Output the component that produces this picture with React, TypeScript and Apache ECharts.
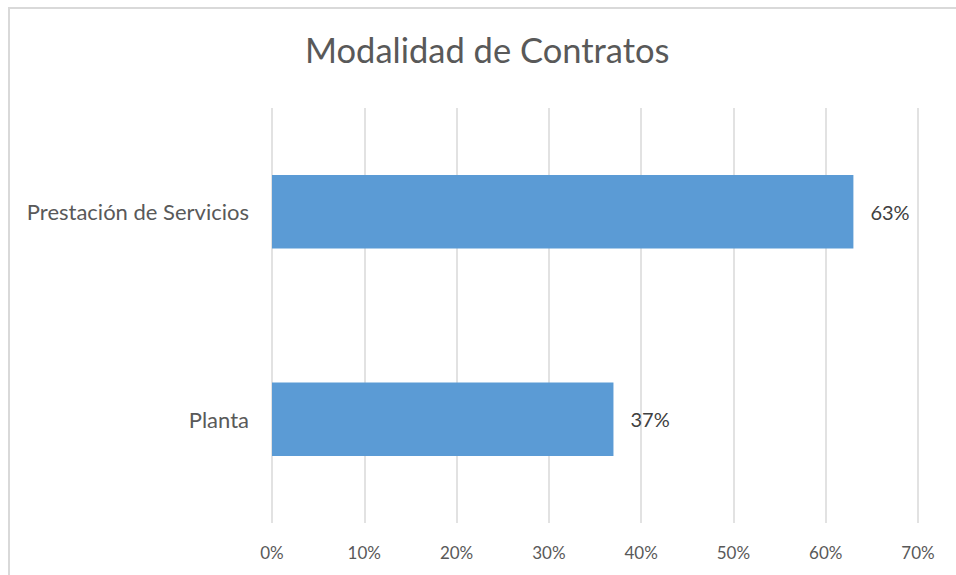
import React, { useEffect, useRef } from "react";
import * as echarts from "echarts";

const title = "Modalidad de Contratos";
const categories = ["Planta", "Prestación de Servicios"];
const values = [0.37, 0.63];
const axisMax = 0.7;
const axisInterval = 0.1;

export default function App() {
  const ref = useRef<HTMLDivElement>(null);
  useEffect(() => {
    if (!ref.current) return;
    const chart = echarts.init(ref.current, null, { renderer: "svg" });
    const font = "Lato, 'Open Sans', sans-serif";
    chart.setOption({
      animation: false,
      backgroundColor: "#ffffff",
      textStyle: { fontFamily: font },
      title: {
        text: title,
        left: 300,
        top: 27,
        textStyle: { fontSize: 34.5, fontWeight: "normal", color: "#595959", fontFamily: font },
      },
      graphic: [
        {
          type: "rect",
          shape: { x: 9, y: 8, width: 1000, height: 600 },
          style: { fill: "none", stroke: "#d9d9d9", lineWidth: 2 },
          silent: true,
        },
      ],
      grid: { left: 272, right: 38, top: 108, bottom: 52, containLabel: false },
      xAxis: {
        type: "value",
        min: 0,
        max: axisMax,
        interval: axisInterval,
        axisLine: { show: false },
        axisTick: { show: false },
        splitLine: { show: true, lineStyle: { color: "#d9d9d9", width: 1.5 } },
        axisLabel: {
          color: "#595959",
          fontSize: 17,
          margin: 21,
          fontFamily: font,
          formatter: (v: number) => Math.round(v * 100) + "%",
        },
      },
      yAxis: {
        type: "category",
        data: categories,
        axisLine: { show: false },
        axisTick: { show: false },
        splitLine: { show: false },
        axisLabel: { color: "#595959", fontSize: 22, margin: 23, fontFamily: font },
      },
      series: [
        {
          type: "bar",
          data: values,
          barWidth: "35.5%",
          itemStyle: { color: "#5b9bd5" },
          label: {
            show: true,
            position: "right",
            distance: 17,
            color: "#404040",
            fontSize: 20,
            fontFamily: font,
            formatter: (p: any) => Math.round(p.value * 100) + "%",
          },
        },
      ],
    });
    return () => chart.dispose();
  }, []);
  return (
    <div
      ref={ref}
      style={{ position: "absolute", left: 0, top: 0, width: 956, height: 575 }}
    />
  );
}
